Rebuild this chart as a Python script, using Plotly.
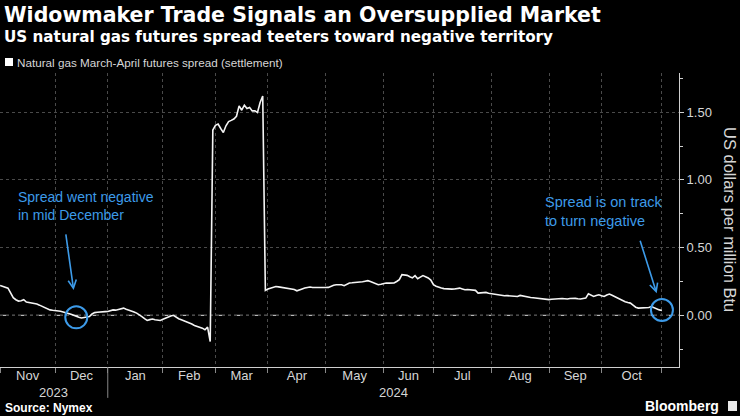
import pandas as pd
import plotly.graph_objects as go

# ---------------- data ----------------
holidays = ["2023-11-23", "2023-12-25", "2024-01-01", "2024-01-15", "2024-02-19",
            "2024-03-29", "2024-05-27", "2024-06-19", "2024-07-04", "2024-09-02",
            "2024-11-28"]

dates = [
    "2023-11-01", "2023-11-02", "2023-11-03", "2023-11-06", "2023-11-07", "2023-11-08",
    "2023-11-09", "2023-11-10", "2023-11-13", "2023-11-14", "2023-11-15", "2023-11-16",
    "2023-11-17", "2023-11-20", "2023-11-21", "2023-11-22", "2023-11-24", "2023-11-27",
    "2023-11-28", "2023-11-29", "2023-11-30", "2023-12-01", "2023-12-04", "2023-12-05",
    "2023-12-06", "2023-12-07", "2023-12-08", "2023-12-11", "2023-12-12", "2023-12-13",
    "2023-12-14", "2023-12-15", "2023-12-18", "2023-12-19", "2023-12-20", "2023-12-21",
    "2023-12-22", "2023-12-26", "2023-12-27", "2023-12-28", "2023-12-29", "2024-01-02",
    "2024-01-03", "2024-01-04", "2024-01-05", "2024-01-08", "2024-01-09", "2024-01-10",
    "2024-01-11", "2024-01-12", "2024-01-16", "2024-01-17", "2024-01-18", "2024-01-19",
    "2024-01-22", "2024-01-23", "2024-01-24", "2024-01-25", "2024-01-26", "2024-01-29",
    "2024-01-30", "2024-01-31", "2024-02-01", "2024-02-02", "2024-02-05", "2024-02-06",
    "2024-02-07", "2024-02-08", "2024-02-09", "2024-02-12", "2024-02-13", "2024-02-14",
    "2024-02-15", "2024-02-16", "2024-02-20", "2024-02-21", "2024-02-22", "2024-02-23",
    "2024-02-26", "2024-02-27", "2024-02-28", "2024-02-29", "2024-03-01", "2024-03-04",
    "2024-03-05", "2024-03-06", "2024-03-07", "2024-03-08", "2024-03-11", "2024-03-12",
    "2024-03-13", "2024-03-14", "2024-03-15", "2024-03-18", "2024-03-19", "2024-03-20",
    "2024-03-21", "2024-03-22", "2024-03-25", "2024-03-26", "2024-03-27", "2024-03-28",
    "2024-04-01", "2024-04-02", "2024-04-03", "2024-04-04", "2024-04-05", "2024-04-08",
    "2024-04-09", "2024-04-10", "2024-04-11", "2024-04-12", "2024-04-15", "2024-04-16",
    "2024-04-17", "2024-04-18", "2024-04-19", "2024-04-22", "2024-04-23", "2024-04-24",
    "2024-04-25", "2024-04-26", "2024-04-29", "2024-04-30", "2024-05-01", "2024-05-02",
    "2024-05-03", "2024-05-06", "2024-05-07", "2024-05-08", "2024-05-09", "2024-05-10",
    "2024-05-13", "2024-05-14", "2024-05-15", "2024-05-16", "2024-05-17", "2024-05-20",
    "2024-05-21", "2024-05-22", "2024-05-23", "2024-05-24", "2024-05-28", "2024-05-29",
    "2024-05-30", "2024-05-31", "2024-06-03", "2024-06-04", "2024-06-05", "2024-06-06",
    "2024-06-07", "2024-06-10", "2024-06-11", "2024-06-12", "2024-06-13", "2024-06-14",
    "2024-06-17", "2024-06-18", "2024-06-20", "2024-06-21", "2024-06-24", "2024-06-25",
    "2024-06-26", "2024-06-27", "2024-06-28", "2024-07-01", "2024-07-02", "2024-07-03",
    "2024-07-05", "2024-07-08", "2024-07-09", "2024-07-10", "2024-07-11", "2024-07-12",
    "2024-07-15", "2024-07-16", "2024-07-17", "2024-07-18", "2024-07-19", "2024-07-22",
    "2024-07-23", "2024-07-24", "2024-07-25", "2024-07-26", "2024-07-29", "2024-07-30",
    "2024-07-31", "2024-08-01", "2024-08-02", "2024-08-05", "2024-08-06", "2024-08-07",
    "2024-08-08", "2024-08-09", "2024-08-12", "2024-08-13", "2024-08-14", "2024-08-15",
    "2024-08-16", "2024-08-19", "2024-08-20", "2024-08-21", "2024-08-22", "2024-08-23",
    "2024-08-26", "2024-08-27", "2024-08-28", "2024-08-29", "2024-08-30", "2024-09-03",
    "2024-09-04", "2024-09-05", "2024-09-06", "2024-09-09", "2024-09-10", "2024-09-11",
    "2024-09-12", "2024-09-13", "2024-09-16", "2024-09-17", "2024-09-18", "2024-09-19",
    "2024-09-20", "2024-09-23", "2024-09-24", "2024-09-25", "2024-09-26", "2024-09-27",
    "2024-09-30", "2024-10-01", "2024-10-02", "2024-10-03", "2024-10-04", "2024-10-07",
    "2024-10-08", "2024-10-09", "2024-10-10", "2024-10-11", "2024-10-14", "2024-10-15",
    "2024-10-16", "2024-10-17", "2024-10-18", "2024-10-21", "2024-10-22", "2024-10-23",
    "2024-10-24", "2024-10-25", "2024-10-28", "2024-10-29", "2024-10-30", "2024-10-31",
    "2024-11-01",
]

spread = [
    0.22, 0.215, 0.21, 0.20, 0.165, 0.13,
    0.115, 0.105, 0.108, 0.115, 0.098, 0.095,
    0.092, 0.088, 0.083, 0.075, 0.065, 0.058,
    0.05, 0.04, 0.037, 0.036, 0.033, 0.03,
    0.025, 0.02, 0.016, 0.008, 0.0, -0.009,
    -0.015, -0.02, -0.018, -0.012, -0.009, 0.01,
    0.02, 0.022, 0.025, 0.024, 0.027, 0.028,
    0.035, 0.04, 0.038, 0.043, 0.045, 0.053,
    0.045, 0.04, 0.03, 0.025, 0.016, 0.005,
    -0.01, -0.025, -0.038, -0.032, -0.028, -0.033,
    -0.036, -0.038, -0.03, -0.02, -0.01, -0.005,
    0.0, -0.015, -0.025, -0.033, -0.04, -0.05,
    -0.058, -0.065, -0.075, -0.08, -0.087, -0.095,
    -0.107, -0.087, -0.194, 1.369, 1.404, 1.413,
    1.38, 1.35, 1.40, 1.431, 1.44, 1.45,
    1.47, 1.547, 1.515, 1.552, 1.527, 1.535,
    1.51, 1.51, 1.498, 1.572, 1.62, 0.184,
    0.194, 0.20, 0.208, 0.213, 0.21, 0.207,
    0.206, 0.203, 0.201, 0.197, 0.19, 0.181,
    0.19, 0.195, 0.201, 0.205, 0.209, 0.205,
    0.204, 0.203, 0.204, 0.205, 0.205, 0.206,
    0.215, 0.222, 0.226, 0.225, 0.226, 0.219,
    0.23, 0.239, 0.24, 0.241, 0.242, 0.243,
    0.248, 0.252, 0.256, 0.25, 0.243, 0.235,
    0.226, 0.23, 0.236, 0.239, 0.238, 0.239,
    0.239, 0.25, 0.263, 0.30, 0.298, 0.295,
    0.285, 0.276, 0.293, 0.27, 0.282, 0.293,
    0.285, 0.276, 0.26, 0.226, 0.215, 0.205,
    0.201, 0.197, 0.194, 0.194, 0.193, 0.194,
    0.198, 0.201, 0.195, 0.189, 0.19, 0.189,
    0.189, 0.184, 0.164, 0.166, 0.168, 0.169,
    0.163, 0.16, 0.157, 0.152, 0.148, 0.144,
    0.144, 0.145, 0.144, 0.144, 0.141, 0.139,
    0.147, 0.142, 0.138, 0.135, 0.132, 0.13,
    0.127, 0.124, 0.12, 0.117, 0.115, 0.116,
    0.118, 0.12, 0.123, 0.127, 0.124, 0.122,
    0.12, 0.124, 0.127, 0.125, 0.122, 0.12,
    0.124, 0.127, 0.159, 0.148, 0.139, 0.146,
    0.152, 0.145, 0.139, 0.15, 0.157, 0.148,
    0.138, 0.127, 0.118, 0.11, 0.10, 0.094,
    0.09, 0.075, 0.06, 0.053, 0.053, 0.053,
    0.053, 0.058, 0.065, 0.055, 0.046, 0.04,
    0.036,
]

month_starts = ["2023-11-01", "2023-12-01", "2024-01-01", "2024-02-01", "2024-03-01",
                "2024-04-01", "2024-05-01", "2024-06-01", "2024-07-01", "2024-08-01",
                "2024-09-01", "2024-10-01", "2024-11-01"]
month_labels = ["Nov", "Dec", "Jan", "Feb", "Mar", "Apr", "May", "Jun", "Jul", "Aug",
                "Sep", "Oct"]
year_labels = ["2023", "2024"]
year_starts = ["2023-11-01", "2024-01-01"]
y_tickvals = [0.0, 0.5, 1.0, 1.5]
y_ticktext = ["0.00", "0.50", "1.00", "1.50"]
y_minor = [-0.25, 0.25, 0.75, 1.25, 1.75]

note_dates = ["2023-12-13", "2024-11-01"]
note_values = [-0.015, 0.039]
arrow_values = [0.187, 0.163]
arrow_dates = ["2023-12-12", "2024-10-30"]

# ---------------- trading-day axis ----------------
days = pd.bdate_range("2023-11-01", "2024-11-30", freq="C", holidays=holidays)


def tpos(d):
    return int(days.searchsorted(pd.Timestamp(d)))


x = [tpos(d) for d in dates]
ms = [tpos(d) for d in month_starts]
x_range = [-0.04, 258.5]
mid = [(ms[i] + ms[i + 1]) / 2 for i in range(len(month_labels))]

BLUE = "#3d9be9"
GRID = "#4a4a4a"
TXT = "#d6d6d6"
FONT = "Liberation Sans"
TFONT = "DejaVu Sans"

fig = go.Figure()
fig.add_trace(go.Scatter(x=x, y=spread, mode="lines",
                         line=dict(color="#f4f4f4", width=1.6),
                         name="Natural gas March-April futures spread (settlement)",
                         showlegend=False, hoverinfo="skip"))

fig.update_layout(
    width=740, height=416,
    margin=dict(l=0, r=61, t=73, b=49),
    paper_bgcolor="#000000", plot_bgcolor="#000000",
    font=dict(family=FONT, color=TXT, size=13),
    showlegend=False,
)

fig.update_xaxes(
    range=x_range,
    tickmode="array", tickvals=mid, ticktext=month_labels,
    ticks="", showgrid=False, zeroline=False,
    showline=True, linecolor="#cfcfcf", linewidth=1,
    tickfont=dict(size=13, color=TXT), ticklabelstandoff=-4,
    minor=dict(tickmode="array", tickvals=ms, showgrid=True, gridcolor=GRID,
               griddash="dot", gridwidth=1, ticks="outside", ticklen=5,
               tickcolor="#888888", tickwidth=1),
)

fig.update_yaxes(
    range=[-0.382, 1.79], side="right",
    tickmode="array", tickvals=y_tickvals, ticktext=y_ticktext,
    ticks="outside", ticklen=4, tickcolor="#cfcfcf",
    showgrid=True, gridcolor=GRID, griddash="dot", gridwidth=1,
    zeroline=False, showline=True, linecolor="#cfcfcf", linewidth=1,
    tickfont=dict(size=13, color=TXT),
    minor=dict(tickmode="array", tickvals=y_minor, ticks="outside", ticklen=3,
               tickcolor="#cfcfcf", showgrid=False),
)

# zero line (dash-dot)
fig.add_shape(type="line", xref="paper", yref="y", x0=0, x1=1, y0=0, y1=0,
              line=dict(color="#b8b8b8", width=1.2, dash="dashdot"), layer="between")

# year separator below axis
fig.add_shape(type="line", xref="x", yref="paper", x0=ms[2], x1=ms[2], y0=0, y1=-0.105,
              line=dict(color="#888888", width=1))

# circles
for d, v in zip(note_dates, note_values):
    xc = tpos(d)
    fig.add_shape(type="circle", xref="x", yref="y", xsizemode="pixel", ysizemode="pixel",
                  xanchor=xc, yanchor=v, x0=-11, x1=11, y0=-11, y1=11,
                  line=dict(color=BLUE, width=2), layer="above")

# arrows
arrow_offsets = [(-8, -57), (-17, -54)]
for d, v, (ax, ay) in zip(arrow_dates, arrow_values, arrow_offsets):
    fig.add_annotation(x=tpos(d), y=v, xref="x", yref="y", text="", showarrow=True,
                       ax=ax, ay=ay, arrowhead=5, arrowsize=1, arrowwidth=1.6,
                       arrowcolor=BLUE)

# note texts
fig.add_annotation(xref="paper", yref="paper", x=16 / 679, y=(367 - 187) / 294,
                   xanchor="left", yanchor="top", align="left", showarrow=False,
                   text="Spread went negative<br>in mid December",
                   font=dict(family=FONT, size=14, color=BLUE))
fig.add_annotation(xref="paper", yref="paper", x=543 / 679, y=(367 - 192) / 294,
                   xanchor="left", yanchor="top", align="left", showarrow=False,
                   text="Spread is on track<br>to turn negative",
                   font=dict(family=FONT, size=14.5, color=BLUE))

# year labels
year_centers = [(tpos(year_starts[0]) + tpos(year_starts[1])) / 2,
                (tpos(year_starts[1]) + x_range[1]) / 2]
for yl, xc in zip(year_labels, year_centers):
    fig.add_annotation(x=xc, xref="x", yref="paper", y=(367 - 392) / 294,
                       text=yl, showarrow=False, xanchor="center", yanchor="middle",
                       font=dict(family=FONT, size=13, color=TXT))

# y-axis title (reads top to bottom)
fig.add_annotation(xref="paper", yref="paper", x=1, y=(367 - 219) / 294, xshift=51,
                   textangle=90,
                   text="US dollars per million Btu", showarrow=False,
                   xanchor="center", yanchor="middle",
                   font=dict(family=FONT, size=16.5, color=TXT))

# titles
fig.add_annotation(xref="paper", yref="paper", x=0, y=(367 - 15) / 294, xshift=2,
                   xanchor="left", yanchor="middle", showarrow=False,
                   text="<b>Widowmaker Trade Signals an Oversupplied Market</b>",
                   font=dict(family=TFONT, size=20.5, color="#ffffff"))
fig.add_annotation(xref="paper", yref="paper", x=0, y=(367 - 37) / 294, xshift=2,
                   xanchor="left", yanchor="middle", showarrow=False,
                   text="<b>US natural gas futures spread teeters toward negative territory</b>",
                   font=dict(family=TFONT, size=15.2, color="#ffffff"))

# legend
fig.add_shape(type="rect", xref="paper", yref="paper",
              x0=5 / 679, x1=13 / 679, y0=(367 - 66) / 294, y1=(367 - 58) / 294,
              fillcolor="#ffffff", line=dict(width=0))
fig.add_annotation(xref="paper", yref="paper", x=15 / 679, y=(367 - 62) / 294,
                   xanchor="left", yanchor="middle", showarrow=False,
                   text="Natural gas March-April futures spread (settlement)",
                   font=dict(family=FONT, size=11.7, color=TXT))

# footer
fig.add_annotation(xref="paper", yref="paper", x=0, y=(367 - 408) / 294, xshift=3,
                   xanchor="left", yanchor="middle", showarrow=False,
                   text="<b>Source: Nymex</b>",
                   font=dict(family=FONT, size=12, color="#ffffff"))
fig.add_annotation(xref="paper", yref="paper", x=1, y=(367 - 406) / 294, xshift=42,
                   xanchor="right", yanchor="middle", showarrow=False,
                   text="<b>Bloomberg</b>",
                   font=dict(family=FONT, size=14, color="#ffffff"))
fig.add_shape(type="rect", xref="paper", yref="paper",
              x0=728 / 679, x1=737 / 679, y0=(367 - 411) / 294, y1=(367 - 401) / 294,
              fillcolor="#e8e8e8", line=dict(width=0))

fig.write_html("out.html",
               config={"displayModeBar": False},
               post_script="document.body.style.margin='0';"
                           "document.body.style.background='#000';")
